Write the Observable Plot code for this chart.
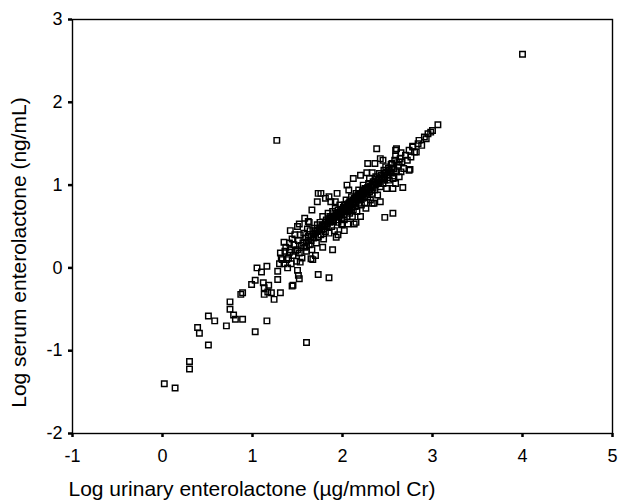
<!DOCTYPE html>
<html>
<head>
<meta charset="utf-8">
<script src="https://cdn.jsdelivr.net/npm/d3@7"></script>
<script src="https://cdn.jsdelivr.net/npm/@observablehq/plot@0.6"></script>
<style>
  html, body { margin: 0; padding: 0; background: #fff; }
  #chart { width: 619px; height: 504px; }
</style>
</head>
<body>
<div id="chart"></div>
<script>
const xTicks = [-1, 0, 1, 2, 3, 4, 5];
const yTicks = [-2, -1, 0, 1, 2, 3];
const xLabel = "Log urinary enterolactone (µg/mmol Cr)";
const yLabel = "Log serum enterolactone (ng/mL)";

// [log urinary, log serum]
const lowTail = [
  [0.02,-1.40],[0.14,-1.45],[0.30,-1.13],[0.30,-1.22],[0.39,-0.72],[0.41,-0.79],
  [0.51,-0.58],[0.51,-0.93],[0.58,-0.64],[0.71,-0.70],[0.75,-0.41],[0.75,-0.50],
  [0.79,-0.57],[0.81,-0.62],[0.89,-0.62],[0.87,-0.32],[0.89,-0.30],[1.03,-0.77],
  [1.16,-0.64],[0.99,-0.20],[1.03,-0.15],[1.05,0.00],[1.10,-0.05],[1.16,0.02],
  [1.12,-0.18],[1.13,-0.24],[1.18,-0.21],[1.13,-0.32],[1.17,-0.29],[1.21,-0.30],
  [1.24,-0.38],[1.31,-0.30],[1.28,-0.04],[1.28,-0.14],[1.45,-0.21],[1.33,0.10],
  [1.39,0.00],[1.50,-0.03],[1.51,-0.09],[1.52,-0.13],[1.44,-0.22],[1.53,0.07],
  [1.67,0.10],[1.65,0.11],[1.73,-0.08],[1.85,-0.12],[1.89,0.22],[1.93,0.37]
];
const outliers = [
  [1.60,-0.90],[1.27,1.54],[4.00,2.58],[2.47,0.61],[2.56,0.66]
];
const clusterEdge = [
  [1.35,0.31],[1.42,0.45],[1.52,0.53],[1.62,0.56],[1.73,0.90],[1.41,0.19],
  [1.76,0.90],[1.81,0.84],[1.94,0.90],[1.92,0.80],[2.07,0.94],[1.87,0.80],
  [2.33,0.78],[2.26,0.72],[2.38,1.44],[2.28,1.26],[2.27,1.15],[2.33,1.15],
  [3.06,1.73],[2.98,1.64],[2.91,1.58],[2.85,1.54],[2.78,1.46],[2.82,1.40],
  [2.59,1.42],[2.65,1.39],[2.45,1.30],[2.59,1.35],[2.63,1.28],[2.54,1.25],
  [2.75,1.19],[2.74,1.18],[2.65,1.16],[2.57,1.11],[2.59,1.02],[2.67,0.97],
  [2.56,0.96],[2.60,1.44],[2.78,1.47],[2.13,0.53],[2.06,0.53],[2.00,0.53],
  [1.63,0.55],[1.61,0.47]
];
const clusterCore = [
  [1.30,0.05],[1.31,0.18],[1.32,0.12],[1.35,0.05],[1.36,0.20],[1.37,0.25],[1.38,0.10],
  [1.40,0.12],[1.41,0.30],[1.42,0.22],[1.43,0.05],[1.44,0.35],
  [1.45,0.15],[1.46,0.28],[1.47,0.40],[1.48,0.20],[1.49,0.08],
  [1.50,0.22],[1.51,0.33],[1.52,0.18],[1.53,0.40],[1.54,0.27],[1.55,0.12],
  [1.56,0.30],[1.57,0.42],[1.58,0.25],[1.59,0.36],[1.60,0.20],[1.60,0.31],
  [1.62,0.38],[1.63,0.28],[1.64,0.45],[1.65,0.33],[1.66,0.22],[1.67,0.40],
  [1.68,0.36],[1.69,0.48],[1.70,0.42],[1.71,0.30],[1.72,0.52],[1.73,0.38],
  [1.74,0.46],[1.75,0.55],[1.76,0.40],[1.77,0.50],[1.78,0.62],[1.79,0.35],[1.79,0.47],
  [1.80,0.52],[1.81,0.44],[1.82,0.58],[1.83,0.50],[1.84,0.66],[1.85,0.42],[1.86,0.55],[1.86,0.62],
  [1.87,0.60],[1.88,0.50],[1.89,0.68],[1.90,0.56],[1.91,0.45],[1.91,0.62],[1.92,0.72],[1.93,0.58],
  [1.94,0.64],[1.95,0.55],[1.95,0.70],[1.96,0.62],[1.97,0.76],[1.98,0.66],[1.99,0.52],[1.99,0.60],
  [2.00,0.70],[2.01,0.64],[2.02,0.76],[2.02,0.58],[2.03,0.68],[2.04,0.82],[2.05,0.72],[2.05,0.62],[2.06,0.75],
  [2.07,0.70],[2.08,0.80],[2.08,0.66],[2.09,0.76],[2.10,0.86],[2.10,0.72],[2.11,0.62],[2.12,0.78],[2.12,0.70],
  [2.13,0.84],[2.14,0.74],[2.15,0.90],[2.15,0.80],[2.16,0.68],[2.17,0.86],[2.18,0.78],[2.18,0.94],[2.19,0.82],
  [2.20,0.88],[2.21,0.76],[2.22,0.92],[2.22,0.84],[2.23,1.00],[2.24,0.86],[2.25,0.78],[2.25,0.96],[2.26,0.90],
  [2.27,0.94],[2.28,0.86],[2.29,1.02],[2.30,0.92],[2.30,1.08],[2.31,0.82],[2.32,0.98],[2.33,0.90],[2.34,1.04],
  [2.35,1.00],[2.36,0.94],[2.37,1.10],[2.38,1.02],[2.39,0.88],[2.40,1.06],[2.41,1.14],[2.42,0.98],[2.43,1.08],
  [2.44,1.10],[2.45,1.02],[2.46,1.18],[2.47,1.06],[2.48,1.22],[2.49,0.96],[2.50,1.12],[2.51,1.20],[2.52,1.06],
  [2.53,1.16],[2.55,1.26],[2.56,1.08],[2.57,1.20],[2.58,1.30],[2.60,1.16],[2.62,1.24],[2.63,1.10],[2.64,1.32],
  [2.66,1.28],[2.68,1.20],[2.70,1.36],[2.72,1.30],[2.74,1.42],[2.76,1.34],[2.80,1.40],[2.84,1.50],
  [2.88,1.48],[2.93,1.56],[2.95,1.62],[3.00,1.66],
  [1.70,0.15],[1.78,0.25],[1.95,0.40],[2.02,0.45],[2.15,0.55],[2.20,0.62],[2.35,0.78],[2.42,0.80],
  [1.50,0.50],[1.58,0.60],[1.66,0.70],[1.72,0.80],[1.85,0.86],[2.05,1.00],[2.12,1.08],[2.20,1.12],
  [2.36,1.26],[2.42,1.32]
];
const clusterRidge = [
  [1.80,0.50],[1.81,0.55],[1.83,0.53],[1.84,0.57],[1.85,0.56],[1.87,0.57],[1.88,0.62],[1.89,0.58],
  [1.90,0.60],[1.92,0.63],[1.93,0.66],[1.94,0.61],[1.96,0.67],[1.97,0.64],[1.98,0.71],[2.00,0.68],
  [2.01,0.73],[2.03,0.72],[2.04,0.70],[2.05,0.77],[2.06,0.68],[2.07,0.78],[2.08,0.74],[2.09,0.80],
  [2.11,0.79],[2.12,0.82],[2.13,0.78],[2.14,0.84],[2.15,0.85],[2.16,0.82],[2.17,0.88],[2.18,0.86],
  [2.19,0.89],[2.20,0.84],[2.21,0.90],[2.22,0.88],[2.23,0.93],[2.24,0.91],[2.26,0.95],[2.27,0.90],
  [2.28,0.97],[2.29,0.95],[2.31,0.99],[2.32,0.94],[2.33,1.00],[2.34,0.97],[2.36,1.04],[2.37,1.01],
  [2.38,1.07],[2.40,1.03],[2.41,1.08],[2.43,1.12],[2.44,1.06],[2.46,1.10],[2.47,1.14],[2.49,1.16],
  [2.50,1.09],[2.52,1.18],[2.54,1.15],[2.55,1.21],[1.60,0.26],[1.62,0.33],[1.65,0.38],[1.68,0.41],
  [1.70,0.45],[1.72,0.44],[1.75,0.48],[1.77,0.46],[1.78,0.52]
];

const points = [...lowTail, ...outliers, ...clusterEdge, ...clusterCore, ...clusterRidge]
  .map(([u, s]) => ({urinary: u, serum: s}));

const fmt = d => d < 0 ? "-" + Math.abs(d) : String(d);

const chart = Plot.plot({
  width: 619,
  height: 504,
  marginLeft: 72,
  marginRight: 7,
  marginTop: 19,
  marginBottom: 71,
  style: {fontFamily: "'Liberation Sans', Arial, sans-serif", background: "white", color: "black"},
  x: {domain: [-1, 5]},
  y: {domain: [-2, 3]},
  marks: [
    Plot.frame({stroke: "black", strokeWidth: 1.4}),
    Plot.axisX({ticks: xTicks, tickSize: 4, tickPadding: 12, strokeWidth: 2.5, fontSize: 18, label: null, tickFormat: fmt}),
    Plot.axisY({ticks: yTicks, tickSize: 4, tickPadding: 6, strokeWidth: 2.5, fontSize: 18, label: null, tickFormat: fmt}),
    Plot.dot(points, {x: "urinary", y: "serum", symbol: "square", r: 3.1, stroke: "black", strokeWidth: 1.45, fill: "none"}),
    Plot.text([xLabel], {frameAnchor: "bottom-left", text: d => d, textAnchor: "start", dx: -4, dy: 62, fontSize: 21, fill: "black"}),
    Plot.text([yLabel], {frameAnchor: "left", text: d => d, textAnchor: "middle", rotate: -90, dx: -53, dy: 26, fontSize: 21, fill: "black"})
  ]
});
document.getElementById("chart").appendChild(chart);
</script>
</body>
</html>
